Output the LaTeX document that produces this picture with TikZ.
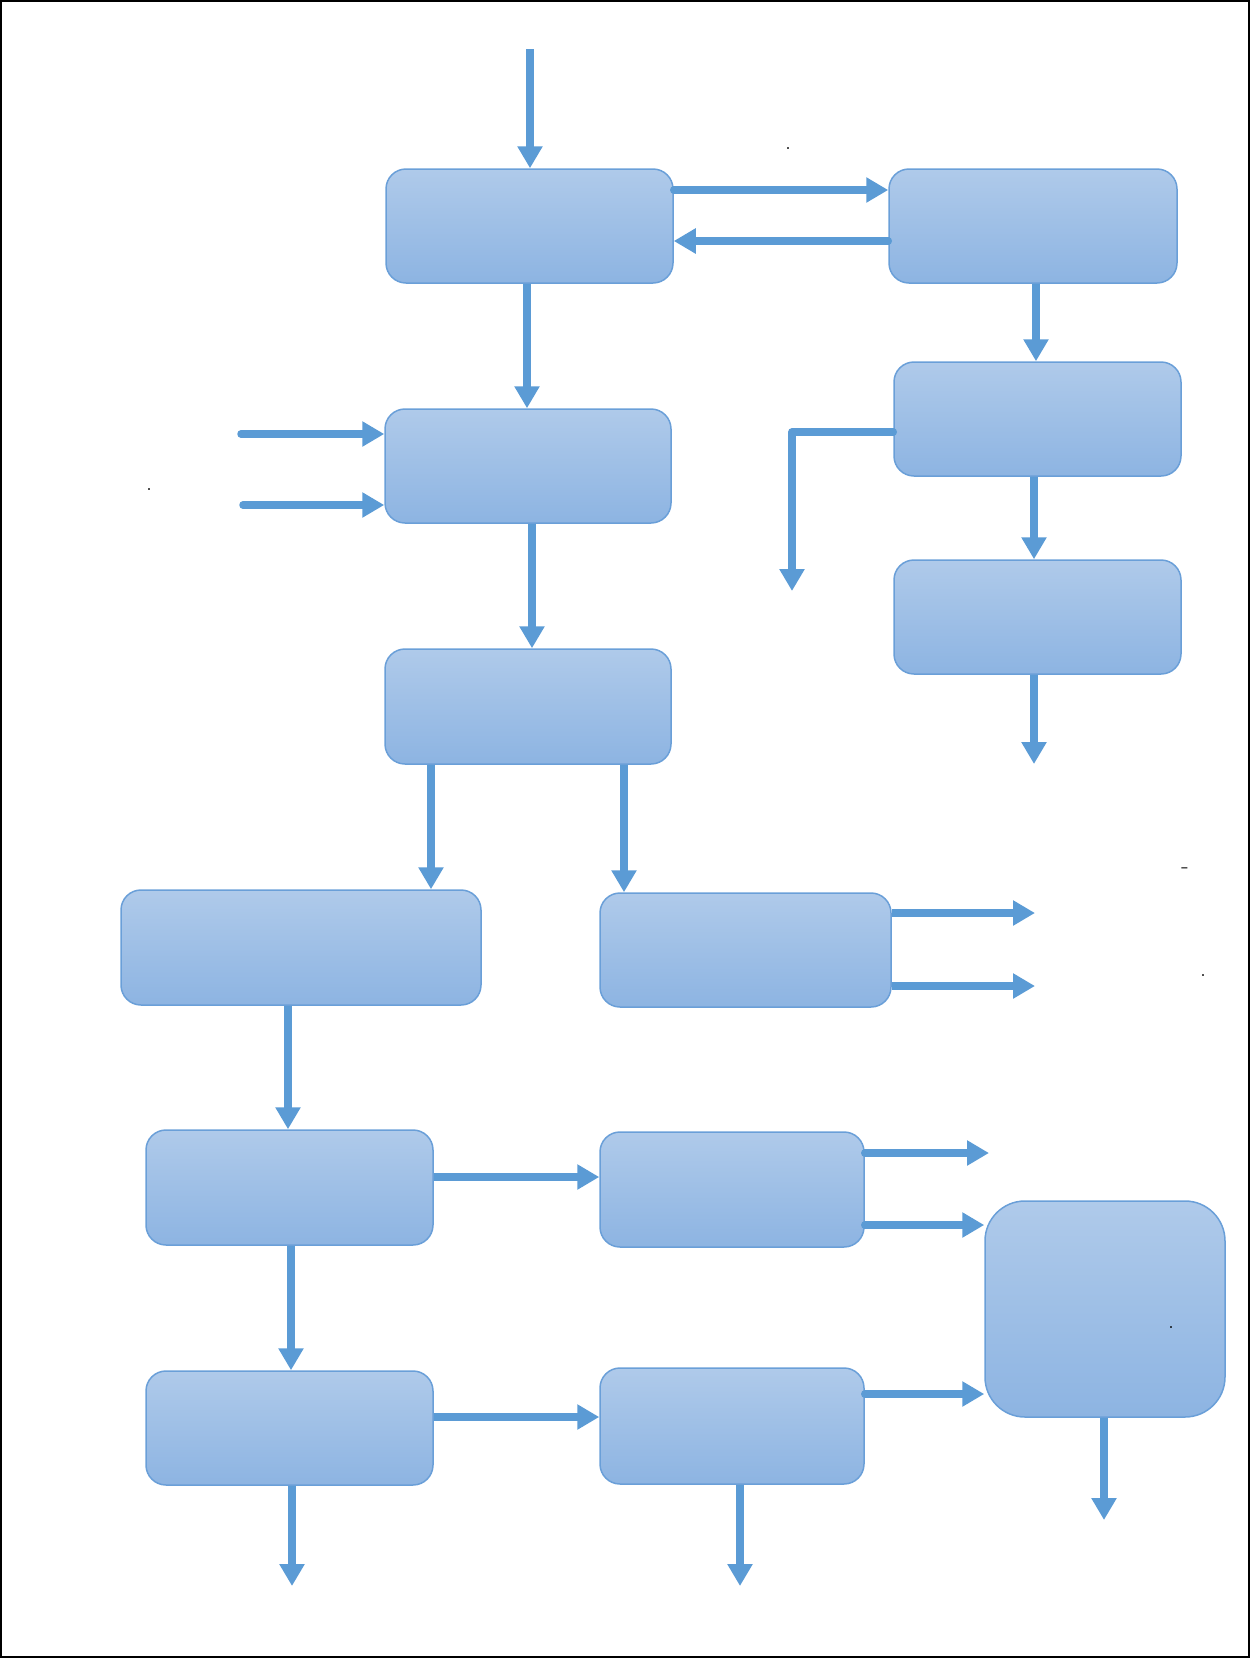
\documentclass[tikz,border=0pt]{standalone}
\usetikzlibrary{arrows.meta}
\definecolor{arrblue}{HTML}{5B9BD5}
\definecolor{boxtop}{HTML}{AFCAEA}
\definecolor{boxbot}{HTML}{8DB4E2}
\definecolor{boxline}{HTML}{6A9FD8}
\tikzset{
  box/.style={rectangle, rounded corners=20pt, draw=boxline, line width=1.5pt,
    top color=boxtop, bottom color=boxbot, inner sep=0pt,
    minimum width=287pt, minimum height=114pt},
  arr/.style={draw=arrblue, line width=7.5pt,
    -{Triangle[width=24pt,length=22pt]}},
  rarr/.style={arr, line cap=round},
  speck/.style={font=\fontsize{24}{24}\selectfont, inner sep=0pt}
}
\begin{document}
\begin{tikzpicture}[x=1pt,y=-1pt]
\useasboundingbox (0,0) rectangle (1250,1658);
\draw[black, line width=2pt] (1,1) rectangle (1249,1657);

% boxes
\node[box] (b1) at (529.5,226) {};
\node[box, minimum width=288pt] (b2) at (1033,226) {};
\node[box] (b3) at (1037.5,419) {};
\node[box] (b4) at (1037.5,617) {};
\node[box, minimum width=286pt] (c1) at (528,466) {};
\node[box, minimum width=286pt, minimum height=115pt] (c2) at (528,706.5) {};
\node[box, minimum width=360pt, minimum height=115pt] (d1) at (301,947.5) {};
\node[box, minimum width=291pt] (d2) at (745.5,950) {};
\node[box, minimum height=115pt] (e1) at (289.5,1187.5) {};
\node[box, minimum width=264pt, minimum height=115pt] (e2) at (732,1189.5) {};
\node[box] (f1) at (289.5,1428) {};
\node[box, minimum width=264pt, minimum height=116pt] (f2) at (732,1426) {};
\node[box, rounded corners=40pt, minimum width=240pt, minimum height=216pt] (g) at (1105,1309) {};

% free ends
\coordinate (top) at (530,49);
\coordinate (inA) at (241,434);
\coordinate (inB) at (243,505);
\coordinate (bend) at (792,432);
\coordinate (bendEnd) at (792,591);
\coordinate (b4out) at (1034,764);
\coordinate (d2outA) at (1035,913);
\coordinate (d2outB) at (1035,986);
\coordinate (e2outA) at (989,1153);
\coordinate (gout) at (1104,1520);
\coordinate (f1out) at (292,1586);
\coordinate (f2out) at (740,1586);

% connectors
\draw[arr] (top) -- (top |- b1.north);
\draw[rarr] (b1.east |- 0,190) -- (b2.west |- 0,190);
\draw[rarr] (b2.west |- 0,241) -- (b1.east |- 0,241);
\draw[arr] (b1.south -| 527,0) -- (c1.north -| 527,0);
\draw[arr] (b2.south -| 1036,0) -- (b3.north -| 1036,0);
\draw[arr] (b3.south -| 1034,0) -- (b4.north -| 1034,0);
\draw[arr] (b4.south -| 1034,0) -- (b4out);
\draw[rarr, line join=round] (b3.west |- bend) -- (bend) -- (bendEnd);
\draw[rarr] (inA) -- (inA -| c1.west);
\draw[rarr] (inB) -- (inB -| c1.west);
\draw[arr] (c1.south -| 532,0) -- (c2.north -| 532,0);
\draw[arr] (c2.south -| 431,0) -- (d1.north -| 431,0);
\draw[arr] (c2.south -| 624,0) -- (d2.north -| 624,0);
\draw[arr] (d2.east |- d2outA) -- (d2outA);
\draw[arr] (d2.east |- d2outB) -- (d2outB);
\draw[arr] (d1.south -| 288,0) -- (e1.north -| 288,0);
\draw[arr] (e1.east |- 0,1177) -- (e2.west |- 0,1177);
\draw[arr] (e1.south -| 291,0) -- (f1.north -| 291,0);
\draw[arr] (f1.east |- 0,1417) -- (f2.west |- 0,1417);
\draw[rarr] (e2.east |- e2outA) -- (e2outA);
\draw[rarr] (e2.east |- 0,1225) -- (g.west |- 0,1225);
\draw[rarr] (f2.east |- 0,1394) -- (g.west |- 0,1394);
\draw[arr] (g.south -| gout) -- (gout);
\draw[arr] (f1.south -| f1out) -- (f1out);
\draw[arr] (f2.south -| f2out) -- (f2out);

% stray marks
\node[speck] (s1) at (788,149) {.};
\node[speck] (s2) at (149,490) {.};
\node[speck] (s3) at (1185,871) {-};
\node[speck] (s4) at (1203,976) {.};
\node[speck] (s5) at (1171,1327) {.};
\end{tikzpicture}
\end{document}
